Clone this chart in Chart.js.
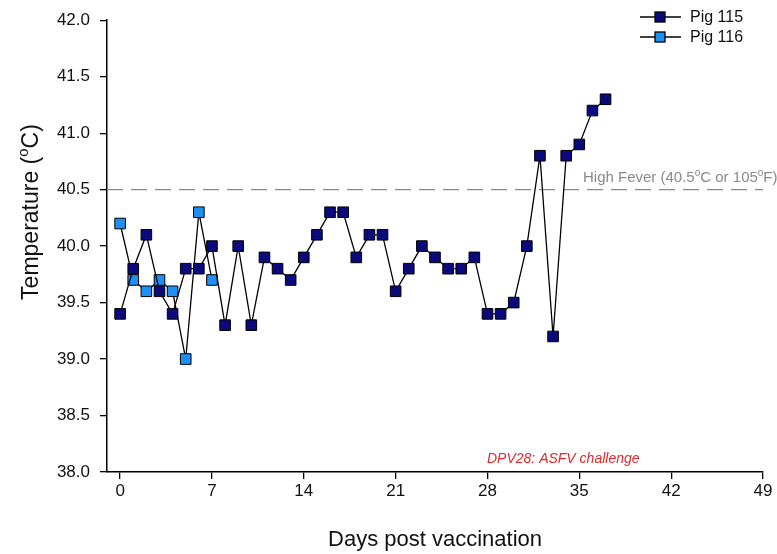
<!DOCTYPE html>
<html>
<head>
<meta charset="utf-8">
<title>Pig temperatures</title>
<script src="https://cdn.jsdelivr.net/npm/chart.js@4.4.1/dist/chart.umd.min.js"></script>
<style>
  body { margin: 0; background: #fff; }
  #chart { display: block; }
</style>
</head>
<body>
<canvas id="chart" width="777" height="554"></canvas>
<script>
// rectal temperature per day, one reading a day
const days115 = [0, 1, 2, 3, 4, 5, 6, 7, 8, 9, 10, 11, 12, 13, 14, 15, 16, 17, 18, 19,
                 20, 21, 22, 23, 24, 25, 26, 27, 28, 29, 30, 31, 32, 33, 34, 35, 36, 37];
const temp115 = [39.4, 39.8, 40.1, 39.6, 39.4, 39.8, 39.8, 40.0, 39.3, 40.0, 39.3, 39.9, 39.8, 39.7,
                 39.9, 40.1, 40.3, 40.3, 39.9, 40.1, 40.1, 39.6, 39.8, 40.0, 39.9, 39.8, 39.8, 39.9,
                 39.4, 39.4, 39.5, 40.0, 40.8, 39.2, 40.8, 40.9, 41.2, 41.3];
const days116 = [0, 1, 2, 3, 4, 5, 6, 7];
const temp116 = [40.2, 39.7, 39.6, 39.7, 39.6, 39.0, 40.3, 39.7];

const xTicks = [0, 7, 14, 21, 28, 35, 42, 49];
const yTicks = [38.0, 38.5, 39.0, 39.5, 40.0, 40.5, 41.0, 41.5, 42.0];
const feverLevel = 40.5;

const FONT = "'Liberation Sans', Arial, sans-serif";

function toPoints(xs, ys) {
  return xs.map((x, i) => ({ x: x, y: ys[i] }));
}

// text with raised small "o" pieces, parts = [[text, isSup], ...]
function drawParts(ctx, parts, x, y, size, align) {
  const supSize = Math.round(size * 0.66);
  let total = 0;
  parts.forEach(p => {
    ctx.font = (p[1] ? supSize : size) + "px " + FONT;
    total += ctx.measureText(p[0]).width;
  });
  let cx = align === "center" ? x - total / 2 : x;
  ctx.textAlign = "left";
  ctx.textBaseline = "alphabetic";
  parts.forEach(p => {
    ctx.font = (p[1] ? supSize : size) + "px " + FONT;
    ctx.fillText(p[0], cx, p[1] ? y - size * 0.42 : y);
    cx += ctx.measureText(p[0]).width;
  });
}

const extras = {
  id: "extras",
  afterDraw(chart) {
    const ctx = chart.ctx;
    ctx.save();

    // y axis title
    ctx.fillStyle = "#111";
    ctx.save();
    ctx.translate(38, 212);
    ctx.rotate(-Math.PI / 2);
    drawParts(ctx, [["Temperature (", false], ["o", true], ["C)", false]], 0, 0, 23, "center");
    ctx.restore();

    // fever threshold label
    ctx.fillStyle = "#8a8a8a";
    drawParts(ctx, [["High Fever (40.5", false], ["o", true], ["C or 105", false], ["o", true], ["F)", false]],
      583, 182, 15, "left");

    // challenge note
    ctx.fillStyle = "#e3262c";
    ctx.font = "italic 14px " + FONT;
    ctx.textAlign = "left";
    ctx.textBaseline = "middle";
    ctx.fillText("DPV28: ASFV challenge", 487, 459);

    // legend: line + square sample
    const rows = [chart.data.datasets[0], chart.data.datasets[1]];
    rows.forEach((ds, i) => {
      const y = 17 + i * 20;
      ctx.strokeStyle = "#000";
      ctx.lineWidth = 1.3;
      ctx.beginPath();
      ctx.moveTo(640, y);
      ctx.lineTo(681, y);
      ctx.stroke();
      ctx.fillStyle = ds.pointBackgroundColor;
      ctx.fillRect(655, y - 5, 10, 10);
      ctx.strokeRect(655, y - 5, 10, 10);
      ctx.fillStyle = "#111";
      ctx.font = "16px " + FONT;
      ctx.textBaseline = "middle";
      ctx.fillText(ds.label, 690, y + 1);
    });
    ctx.restore();
  }
};

new Chart(document.getElementById("chart"), {
  type: "line",
  data: {
    datasets: [
      {
        label: "Pig 115",
        data: toPoints(days115, temp115),
        borderColor: "#000",
        borderWidth: 1.3,
        pointStyle: "rect",
        pointRadius: 7.5,
        pointBorderWidth: 1,
        pointBorderColor: "#000",
        pointBackgroundColor: "#0a0a7c"
      },
      {
        label: "Pig 116",
        data: toPoints(days116, temp116),
        borderColor: "#000",
        borderWidth: 1.3,
        pointStyle: "rect",
        pointRadius: 7.5,
        pointBorderWidth: 1,
        pointBorderColor: "#000",
        pointBackgroundColor: "#1e8ff5"
      },
      {
        label: "High fever",
        data: [{ x: -1, y: feverLevel }, { x: 49, y: feverLevel }],
        borderColor: "#8a8a8a",
        borderWidth: 1.3,
        borderDash: [16, 8],
        pointRadius: 0
      }
    ]
  },
  options: {
    responsive: false,
    animation: false,
    devicePixelRatio: 1,
    layout: { padding: { top: 18, right: 14, left: 0, bottom: 0 }, autoPadding: false },
    plugins: { legend: { display: false }, tooltip: { enabled: false } },
    scales: {
      x: {
        type: "linear",
        min: -1,
        max: 49,
        afterBuildTicks: s => { s.ticks = xTicks.map(v => ({ value: v })); },
        afterFit: s => { s.height = 82; },
        grid: { drawOnChartArea: false, tickLength: 7, color: "#000", lineWidth: 1.3 },
        border: { color: "#000", width: 1.5 },
        ticks: { color: "#111", font: { family: FONT, size: 17 }, padding: 2, maxRotation: 0 },
        title: {
          display: true,
          text: "Days post vaccination",
          color: "#111",
          font: { family: FONT, size: 22 },
          padding: { top: 0, bottom: 1 }
        }
      },
      y: {
        min: 38,
        max: 42,
        afterBuildTicks: s => { s.ticks = yTicks.map(v => ({ value: v })); },
        afterFit: s => { s.width = 107; },
        grid: { drawOnChartArea: false, tickLength: 7, color: "#000", lineWidth: 1.3 },
        border: { color: "#000", width: 1.5 },
        ticks: {
          color: "#111",
          font: { family: FONT, size: 17 },
          padding: 10,
          callback: v => v.toFixed(1)
        }
      }
    }
  },
  plugins: [extras]
});
</script>
</body>
</html>
